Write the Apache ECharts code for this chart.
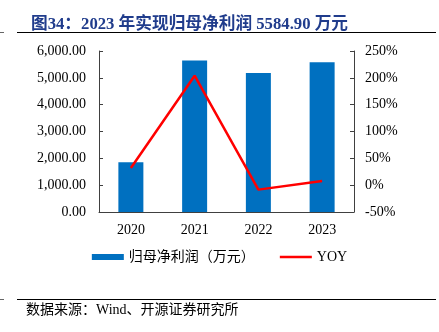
<!DOCTYPE html>
<html>
<head>
<meta charset="utf-8">
<script src="https://cdn.jsdelivr.net/npm/echarts@6/dist/echarts.min.js"></script>
<style>html,body{margin:0;padding:0;background:#fff;}#c{width:439px;height:332px;}</style>
</head>
<body>
<div id="c"></div>
<script>
const categories = ['2020', '2021', '2022', '2023'];
const profit = [1850, 5650, 5180, 5584.90];
const yoy = [32, 204, -8.3, 7.8];
const leftTicks = [0, 6000, 1000];
const rightTicks = [-50, 250, 50];

const serif = '"Times New Roman","Liberation Serif","Noto Sans CJK SC",serif';
const chart = echarts.init(document.getElementById('c'), null, {renderer: 'canvas'});
const axisColor = '#404040';
chart.setOption({
  animation: false,
  title: {
    text: '图34：2023 年实现归母净利润 5584.90 万元',
    left: 26, top: 11,
    textStyle: {fontFamily: serif, fontSize: 16.7, fontWeight: 'bold', color: '#203C8C'}
  },
  graphic: [
    {type: 'line', shape: {x1: 17, y1: 32.5, x2: 436, y2: 32.5}, style: {stroke: '#000', lineWidth: 1}},
    {type: 'line', shape: {x1: 0, y1: 32.5, x2: 4, y2: 32.5}, style: {stroke: '#666', lineWidth: 1}},
    {type: 'line', shape: {x1: 17, y1: 299.5, x2: 436, y2: 299.5}, style: {stroke: '#000', lineWidth: 1}},
    {type: 'line', shape: {x1: 0, y1: 299.5, x2: 4, y2: 299.5}, style: {stroke: '#666', lineWidth: 1}},
    {type: 'text', left: 26, top: 303, style: {text: '数据来源：Wind、开源证券研究所', font: '14px ' + serif, fill: '#000'}}
  ],
  grid: {left: 99, right: 85, top: 51, bottom: 120, containLabel: false},
  legend: {
    bottom: 63, left: 'center',
    itemGap: 25,
    itemWidth: 32, itemHeight: 6,
    textStyle: {fontFamily: serif, fontSize: 14, color: '#000'},
    data: [
      {name: '归母净利润（万元）', icon: 'rect'},
      {name: 'YOY', icon: 'path://M0,0L32,0L32,2.5L0,2.5Z', itemStyle: {color: '#FF0000'}}
    ]
  },
  xAxis: {
    type: 'category', data: categories,
    axisLine: {lineStyle: {color: axisColor}},
    axisTick: {inside: true, length: 4, lineStyle: {color: axisColor}},
    axisLabel: {fontFamily: serif, fontSize: 14, color: '#000', margin: 11}
  },
  yAxis: [
    {
      type: 'value', min: leftTicks[0], max: leftTicks[1], interval: leftTicks[2],
      axisLine: {show: true, lineStyle: {color: axisColor}},
      axisTick: {show: true, inside: true, length: 4, lineStyle: {color: axisColor}},
      splitLine: {show: false},
      axisLabel: {fontFamily: serif, fontSize: 14, color: '#000', margin: 13,
        formatter: v => v.toLocaleString('en-US', {minimumFractionDigits: 2, maximumFractionDigits: 2})}
    },
    {
      type: 'value', min: rightTicks[0], max: rightTicks[1], interval: rightTicks[2],
      axisLine: {show: true, lineStyle: {color: axisColor}},
      axisTick: {show: true, inside: true, length: 4, lineStyle: {color: axisColor}},
      splitLine: {show: false},
      axisLabel: {fontFamily: serif, fontSize: 14, color: '#000', margin: 11, formatter: v => v + '%'}
    }
  ],
  series: [
    {name: '归母净利润（万元）', type: 'bar', data: profit, barWidth: 25, itemStyle: {color: '#0070C0'}},
    {name: 'YOY', type: 'line', yAxisIndex: 1, data: yoy, symbol: 'none',
      lineStyle: {color: '#FF0000', width: 2.5}, itemStyle: {color: '#FF0000'}}
  ]
});
</script>
</body>
</html>
